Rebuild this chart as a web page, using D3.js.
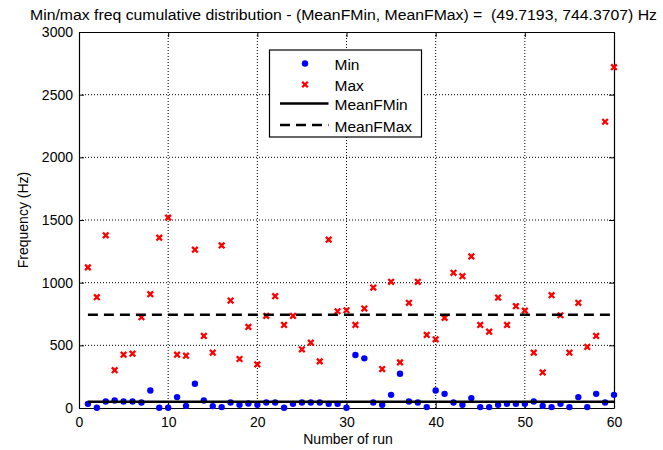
<!DOCTYPE html>
<html><head><meta charset="utf-8">
<script src="https://cdn.jsdelivr.net/npm/d3@7"></script>
<style>
html,body{margin:0;padding:0;background:#fff;}
svg{display:block;font-family:"Liberation Sans",Arial,sans-serif;}
</style></head>
<body><svg id="c" width="663" height="450"></svg>
<script>
const runs = d3.range(1, 61);
const minVals = [33,2,52,60,52,52,44,140,2,2,87,17,193,60,15,7,44,25,36,25,
  44,44,2,33,44,44,44,33,33,2,423,396,44,25,105,273,52,44,7,140,
  113,44,25,79,7,7,25,33,33,33,52,17,7,33,7,87,7,113,44,105];
const maxVals = [1122,884,1378,302,425,433,724,908,1359,1519,425,417,1263,575,441,1297,857,391,647,348,
  735,892,663,735,468,521,372,1343,772,780,663,793,961,311,1007,364,839,1007,583,548,
  719,1079,1052,1209,663,609,881,663,812,777,441,284,900,740,441,839,487,575,2284,2719];
const meanMin = 49.7193, meanMax = 744.3707;
const xTicks = [0,10,20,30,40,50,60];
const yTicks = [0,500,1000,1500,2000,2500,3000];
const legendLabels = ["Min","Max","MeanFMin","MeanFMax"];
const titleText = "Min/max freq cumulative distribution - (MeanFMin, MeanFMax) =  (49.7193, 744.3707) Hz";

const svg = d3.select("#c");
const L=79, R=614, T=32, B=408;
const x = d3.scaleLinear().domain([0,60]).range([L,R]);
const y = d3.scaleLinear().domain([0,3000]).range([B,T]);
const FS = 14;

// grid
const g = svg.append("g");
g.selectAll(".gx").data(xTicks.slice(1,-1)).join("line")
  .attr("x1",d=>x(d)).attr("x2",d=>x(d)).attr("y1",T).attr("y2",B)
  .attr("stroke","#000").attr("stroke-width",1).attr("stroke-dasharray","1,2");
g.selectAll(".gy").data(yTicks.slice(1,-1)).join("line")
  .attr("y1",d=>y(d)).attr("y2",d=>y(d)).attr("x1",L).attr("x2",R)
  .attr("stroke","#000").attr("stroke-width",1).attr("stroke-dasharray","1,2");

// axes
const fmt = d3.format("d");
const ax = d3.axisBottom(x).tickValues(xTicks).tickSizeInner(-5).tickSizeOuter(0).tickPadding(9).tickFormat(fmt);
const axT = d3.axisTop(x).tickValues(xTicks).tickSizeInner(-5).tickSizeOuter(0).tickFormat("");
const ay = d3.axisLeft(y).tickValues(yTicks).tickSizeInner(-5).tickSizeOuter(0).tickPadding(6).tickFormat(fmt);
const ayR = d3.axisRight(y).tickValues(yTicks).tickSizeInner(-5).tickSizeOuter(0).tickFormat("");
function style(sel){
  sel.selectAll("path").attr("stroke","#000").attr("stroke-width",1.2);
  sel.selectAll("line").attr("stroke","#000").attr("stroke-width",1);
  sel.selectAll("text").attr("font-size",FS).attr("fill","#000").attr("font-family",'"Liberation Sans",Arial,sans-serif');
}
svg.append("g").attr("transform",`translate(0,${B})`).call(ax).call(style);
svg.append("g").attr("transform",`translate(0,${T})`).call(axT).call(style);
svg.append("g").attr("transform",`translate(${L},0)`).call(ay).call(style);
svg.append("g").attr("transform",`translate(${R},0)`).call(ayR).call(style);

// points
svg.append("g").selectAll("circle").data(runs).join("circle")
  .attr("cx",d=>x(d)).attr("cy",(d,i)=>y(minVals[i])).attr("r",3.2).attr("fill","#0000ff");
const xs = 2.8;
svg.append("g").selectAll("path").data(runs).join("path")
  .attr("d",(d,i)=>{const cx=x(d), cy=y(maxVals[i]);
    return `M${cx-xs},${cy-xs}L${cx+xs},${cy+xs}M${cx-xs},${cy+xs}L${cx+xs},${cy-xs}`;})
  .attr("stroke","#ff0000").attr("stroke-width",2.3).attr("fill","none");

// mean lines
svg.append("line").attr("x1",x(1)).attr("x2",x(60)).attr("y1",y(meanMin)).attr("y2",y(meanMin))
  .attr("stroke","#000").attr("stroke-width",2.5);
svg.append("line").attr("x1",x(1)).attr("x2",x(60)).attr("y1",y(meanMax)).attr("y2",y(meanMax))
  .attr("stroke","#000").attr("stroke-width",2.5).attr("stroke-dasharray","10,6");

// legend
const lg = svg.append("g");
lg.append("rect").attr("x",269.5).attr("y",50).attr("width",152).attr("height",87)
  .attr("fill","#fff").attr("stroke","#000").attr("stroke-width",1.2);
const ly = [63.5,84.5,103.5,125];
lg.append("circle").attr("cx",305).attr("cy",ly[0]).attr("r",3.2).attr("fill","#0000ff");
lg.append("path").attr("d",`M${305-xs},${ly[1]-xs}L${305+xs},${ly[1]+xs}M${305-xs},${ly[1]+xs}L${305+xs},${ly[1]-xs}`)
  .attr("stroke","#ff0000").attr("stroke-width",2.3);
lg.append("line").attr("x1",280).attr("x2",328.5).attr("y1",ly[2]).attr("y2",ly[2]).attr("stroke","#000").attr("stroke-width",2.5);
lg.append("line").attr("x1",280).attr("x2",328.5).attr("y1",ly[3]).attr("y2",ly[3]).attr("stroke","#000").attr("stroke-width",2.5).attr("stroke-dasharray","10,6");
lg.selectAll("text").data(legendLabels).join("text")
  .attr("x",334.5).attr("y",(d,i)=>ly[i]+1).attr("dy","0.36em").attr("font-size",15.5).text(d=>d);

// titles
svg.append("text").attr("x",30).attr("y",20).attr("font-size",FS)
  .attr("textLength",627).attr("lengthAdjust","spacingAndGlyphs")
  .style("white-space","pre").text(titleText);
svg.append("text").attr("x",348).attr("y",444).attr("text-anchor","middle").attr("font-size",FS).text("Number of run");
svg.append("text").attr("transform",`translate(28,${(T+B)/2}) rotate(-90)`).attr("text-anchor","middle").attr("font-size",FS).text("Frequency (Hz)");
</script></body></html>
